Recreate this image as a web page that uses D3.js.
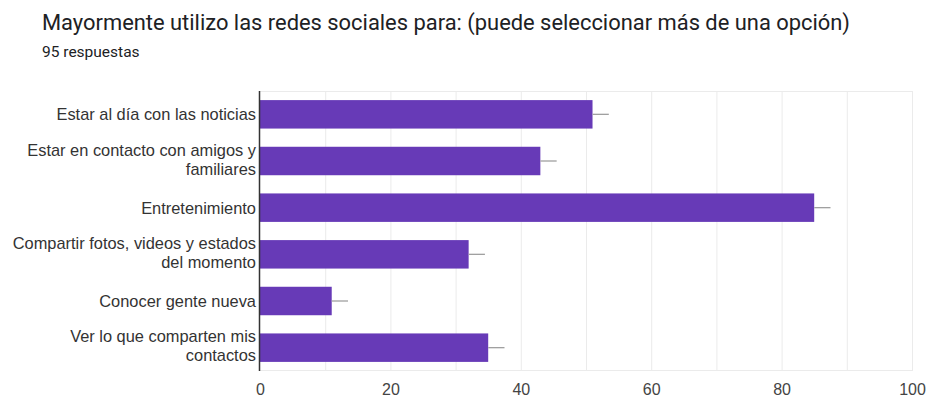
<!DOCTYPE html>
<html>
<head>
<meta charset="utf-8">
<script src="https://cdn.jsdelivr.net/npm/d3@7"></script>
<style>
  body { margin: 0; background: #fff; }
  svg { display: block; }
</style>
</head>
<body>
<div id="chart"></div>
<script>
// data
const categories = [
  "Estar al día con las noticias",
  "Estar en contacto con amigos y familiares",
  "Entretenimiento",
  "Compartir fotos, videos y estados del momento",
  "Conocer gente nueva",
  "Ver lo que comparten mis contactos"
];
const counts = [51, 43, 85, 32, 11, 35];
const tickValues = [0, 20, 40, 60, 80, 100];
const gridValues = [10, 20, 30, 40, 50, 60, 70, 80, 90, 100];
const whiskerLen = 2.5; // little grey line past each bar, in data units

const width = 926, height = 397;
const margin = {left: 260, right: 14, top: 91, bottom: 26};
const plotTop = margin.top, plotBottom = height - margin.bottom;

const data = categories.map((c, i) => ({name: c, value: counts[i]}));

const svg = d3.select("#chart")
  .append("svg")
  .attr("width", width)
  .attr("height", height);

// title + subtitle
svg.append("text")
  .attr("x", 42).attr("y", 30)
  .style("font-family", "Roboto, sans-serif")
  .style("font-size", "21.9px")
  .style("fill", "#202124")
  .text("Mayormente utilizo las redes sociales para: (puede seleccionar más de una opción)");

svg.append("text")
  .attr("x", 42).attr("y", 57)
  .style("font-family", "Roboto, sans-serif")
  .style("font-size", "15.5px")
  .style("fill", "#202124")
  .text("95 respuestas");

let x = d3.scaleLinear()
  .domain([0, 100])
  .range([margin.left, width - margin.right]);

let y = d3.scaleBand()
  .domain(categories)
  .range([plotTop, plotBottom])
  .paddingInner(0.39)
  .paddingOuter(0.195);

// grid
svg.append("g")
  .selectAll("line")
  .data(gridValues)
  .enter()
  .append("line")
  .attr("x1", d => x(d) + 0.5).attr("x2", d => x(d) + 0.5)
  .attr("y1", plotTop).attr("y2", plotBottom)
  .attr("stroke", "#ebebeb");

svg.append("line")
  .attr("x1", x(0)).attr("x2", x(100))
  .attr("y1", plotTop + 0.5).attr("y2", plotTop + 0.5)
  .attr("stroke", "#ebebeb");
svg.append("line")
  .attr("x1", x(0)).attr("x2", x(100))
  .attr("y1", plotBottom - 0.5).attr("y2", plotBottom - 0.5)
  .attr("stroke", "#ebebeb");

// bars
svg.selectAll("rect.bar")
  .data(data)
  .enter()
  .append("rect")
  .attr("class", "bar")
  .attr("x", x(0))
  .attr("y", d => y(d.name))
  .attr("width", d => x(d.value) - x(0))
  .attr("height", y.bandwidth())
  .attr("fill", "#673ab7");

// whiskers
svg.selectAll("line.whisker")
  .data(data)
  .enter()
  .append("line")
  .attr("class", "whisker")
  .attr("x1", d => x(d.value))
  .attr("x2", d => x(d.value + whiskerLen))
  .attr("y1", d => y(d.name) + y.bandwidth() / 2)
  .attr("y2", d => y(d.name) + y.bandwidth() / 2)
  .attr("stroke", "#a0a0a0")
  .attr("stroke-width", 1.3);

// baseline
svg.append("line")
  .attr("x1", x(0) - 0.5).attr("x2", x(0) - 0.5)
  .attr("y1", plotTop).attr("y2", plotBottom)
  .attr("stroke", "#333")
  .attr("stroke-width", 1.5);

// x tick labels
let xAxis = svg.append("g")
  .attr("transform", "translate(0," + plotBottom + ")")
  .call(d3.axisBottom(x).tickValues(tickValues).tickSize(0).tickPadding(12.5));
xAxis.select(".domain").remove();
xAxis.selectAll("text")
  .style("font-family", "'Liberation Sans', Arial, sans-serif")
  .style("font-size", "16px")
  .style("fill", "#444");

// y labels, wrapped like the original
const labelFont = "16.4px 'Liberation Sans', Arial, sans-serif";
const maxLabel = 250;
const ylab = svg.append("g");
data.forEach(d => {
  const t = ylab.append("text")
    .attr("text-anchor", "end")
    .style("font", labelFont)
    .style("fill", "#333");
  const words = d.name.split(" ");
  let lines = [], cur = [];
  const probe = ylab.append("text").style("font", labelFont);
  words.forEach(w => {
    probe.text(cur.concat(w).join(" "));
    if (cur.length && probe.node().getComputedTextLength() > maxLabel) {
      lines.push(cur.join(" "));
      cur = [w];
    } else cur.push(w);
  });
  lines.push(cur.join(" "));
  probe.remove();
  const lh = 19;
  const off = lines.length > 1 ? 4.0 : 5.9;
  const cy = y(d.name) + y.bandwidth() / 2;
  lines.forEach((ln, i) => {
    t.append("tspan")
      .attr("x", x(0) - 4)
      .attr("y", cy + off + (i - (lines.length - 1) / 2) * lh)
      .text(ln);
  });
});
</script>
</body>
</html>
